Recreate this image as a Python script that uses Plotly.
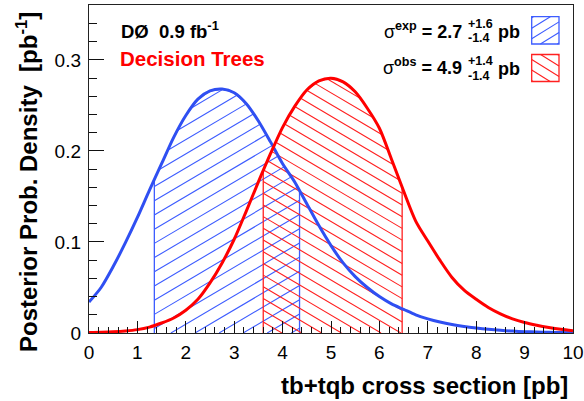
import numpy as np
import plotly.graph_objects as go

W, H = 584, 401

# ---------------- data ----------------
x_grid = [0.0, 0.25, 0.5, 0.75, 1.0, 1.25, 1.5, 1.75, 2.0, 2.25, 2.5, 2.75,
          3.0, 3.25, 3.5, 3.75, 4.0, 4.25, 4.5, 4.75, 5.0, 5.25, 5.5, 5.75,
          6.0, 6.25, 6.5, 6.75, 7.0, 7.25, 7.5, 7.75, 8.0, 8.25, 8.5, 8.75,
          9.0, 9.25, 9.5, 9.75, 10.0]
exp_density = [0.034, 0.050, 0.073, 0.099, 0.127, 0.157, 0.186, 0.215, 0.239,
               0.257, 0.266, 0.268, 0.264, 0.252, 0.233, 0.210, 0.186, 0.166,
               0.142, 0.118, 0.096, 0.077, 0.062, 0.050, 0.040, 0.032, 0.026,
               0.020, 0.0155, 0.012, 0.0093, 0.0072, 0.0055, 0.0041, 0.0030,
               0.0021, 0.0015, 0.0010, 0.0007, 0.0005, 0.0004]
obs_density = [0.0005, 0.0008, 0.0013, 0.0022, 0.0037, 0.0065, 0.011, 0.0165,
               0.025, 0.037, 0.055, 0.077, 0.103, 0.134, 0.166, 0.197, 0.226,
               0.249, 0.267, 0.277, 0.280, 0.276, 0.265, 0.247, 0.225, 0.191,
               0.156, 0.123, 0.101, 0.080, 0.061, 0.047, 0.037, 0.028, 0.021,
               0.0155, 0.0115, 0.0085, 0.0060, 0.0040, 0.0025]
exp_band = [1.35, 4.35]
obs_band = [3.6, 6.47]
x_tick_vals = list(range(0, 11))
x_tick_labels = [str(v) for v in x_tick_vals]
y_tick_vals = [0, 0.1, 0.2, 0.3]
y_tick_labels = ["0", "0.1", "0.2", "0.3"]

# ---------------- styling / geometry ----------------
FONT = "Liberation Sans, Arial, Helvetica, sans-serif"
BLUE = "#2f4ff2"
BLUE_H = "#3d5cff"
RED = "#ff0000"
RED_H = "#ff2020"
X0, X1 = 89.0, 573.0      # plot area in pixels (left, right)
YB, YT = 333.0, 5.0       # plot area in pixels (bottom, top)
XR = [0, 10]
YR = [0, 0.3604]
SX = (X1 - X0) / (XR[1] - XR[0])
SY = (YB - YT) / (YR[1] - YR[0])


def pp(px, py):
    return px / W, 1 - py / H


def hatch(xs, ys, lo, hi, slope_px, spacing_px, anchor_x, anchor_h):
    m = slope_px * SX / SY
    xx = np.linspace(lo, hi, 1200)
    f = np.interp(xx, xs, ys)
    d = spacing_px / SY
    b0 = anchor_h / SY - m * anchor_x
    cands = [0 - m * lo, 0 - m * hi, f.max() - m * lo, f.max() - m * hi]
    kmin = int(np.floor((min(cands) - b0) / d)) - 1
    kmax = int(np.ceil((max(cands) - b0) / d)) + 1
    X, Y = [], []
    for k in range(kmin, kmax + 1):
        b = b0 + k * d
        yl = m * xx + b
        inside = (yl >= 0) & (yl <= f)
        idx = np.flatnonzero(inside)
        if len(idx) < 2:
            continue
        sp = np.flatnonzero(np.diff(idx) > 1)
        starts = np.r_[idx[0], idx[sp + 1]]
        ends = np.r_[idx[sp], idx[-1]]
        for s, e in zip(starts, ends):
            if e > s:
                X += [xx[s], xx[e], None]
                Y += [yl[s], yl[e], None]
    return X, Y


def band_outline(xs, ys, lo, hi):
    xs = np.asarray(xs); ys = np.asarray(ys)
    sel = (xs > lo) & (xs < hi)
    bx = [lo, lo] + list(xs[sel]) + [hi, hi]
    by = [0, float(np.interp(lo, xs, ys))] + list(ys[sel]) + [float(np.interp(hi, xs, ys)), 0]
    return bx, by


fig = go.Figure()

# hatched +-1 sigma regions
for xs, ys, band, col, slope, spacing, ax, ah in [
        (x_grid, exp_density, exp_band, BLUE_H, 0.59, 14.2, 1.346, 103.7),
        (x_grid, obs_density, obs_band, RED_H, -0.59, 11.7, 6.47, 128.0)]:
    hx, hy = hatch(xs, ys, band[0], band[1], slope, spacing, ax, ah)
    fig.add_trace(go.Scatter(x=hx, y=hy, mode="lines", line=dict(color=col, width=1.1),
                             hoverinfo="skip", showlegend=False))
    ox, oy = band_outline(xs, ys, band[0], band[1])
    fig.add_trace(go.Scatter(x=ox, y=oy, mode="lines", line=dict(color=col, width=1.3),
                             hoverinfo="skip", showlegend=False))

# posterior curves
fig.add_trace(go.Scatter(x=x_grid, y=exp_density, mode="lines",
                         line=dict(color=BLUE, width=3, shape="spline", smoothing=0.8),
                         showlegend=False))
fig.add_trace(go.Scatter(x=x_grid, y=obs_density, mode="lines",
                         line=dict(color=RED, width=3, shape="spline", smoothing=0.8),
                         showlegend=False))

shapes = []
# legend boxes with hatching (pixel geometry)
def box_hatch(x0, y0, x1, y1, slope, spacing_h, col):
    out = [dict(type="rect", xref="paper", yref="paper",
                x0=pp(x0, y0)[0], y0=pp(x0, y1)[1], x1=pp(x1, y0)[0], y1=pp(x0, y0)[1],
                line=dict(color=col, width=1.3), fillcolor="rgba(0,0,0,0)")]
    xx = np.linspace(x0, x1, 400)
    for k in range(-6, 7):
        c = (y0 + y1) / 2 + k * spacing_h * abs(slope)
        yy = c - slope * (xx - (x0 + x1) / 2)
        ok = np.flatnonzero((yy >= y0) & (yy <= y1))
        if len(ok) < 2:
            continue
        a, b = ok[0], ok[-1]
        p0 = pp(xx[a], yy[a]); p1 = pp(xx[b], yy[b])
        out.append(dict(type="line", xref="paper", yref="paper",
                        x0=p0[0], y0=p0[1], x1=p1[0], y1=p1[1],
                        line=dict(color=col, width=1.1)))
    return out

shapes += box_hatch(531.7, 16.7, 559.0, 44.0, 0.62, 17.0, BLUE_H)
shapes += box_hatch(531.7, 54.5, 559.0, 81.5, -0.62, 17.0, RED_H)

ann = []
def A(text, px, py, size, color="black", xanchor="left", yanchor="middle", angle=0):
    x, y = pp(px, py)
    ann.append(dict(text=text, x=x, y=y, xref="paper", yref="paper", showarrow=False,
                    xanchor=xanchor, yanchor=yanchor, textangle=angle,
                    font=dict(family=FONT, size=size, color=color)))

A("<b>D\u00d8\u00a0 0.9 fb<sup>-1</sup></b>", 119, 29.5, 18.5)
A("<b>Decision Trees</b>", 118, 58.5, 20.5, color=RED)
A("\u03c3<b><sup>exp</sup> = 2.7</b>", 464, 30, 18, xanchor="right")
A("<b>+1.6</b>", 466, 24, 12.5)
A("<b>-1.4</b>", 466, 38.5, 12.5)
A("<b>pb</b>", 496, 32, 18)
A("\u03c3<b><sup>obs</sup> = 4.9</b>", 464, 66.5, 18, xanchor="right")
A("<b>+1.4</b>", 466, 61, 12.5)
A("<b>-1.4</b>", 466, 75.5, 12.5)
A("<b>pb</b>", 496, 69, 18)
A("<b>tb+tqb cross section [pb]</b>", 570, 385, 24, xanchor="right")
A("<b>Posterior Prob. Density\u00a0 [pb<sup>-1</sup>]</b>", 27, 182, 24,
  xanchor="center", angle=-90)

axis_common = dict(showgrid=False, zeroline=False, showline=True, mirror=True,
                   linecolor="#222222", linewidth=1.4, ticks="inside",
                   tickcolor="#111111", tickwidth=1.2, automargin=False,
                   tickfont=dict(family=FONT, size=19, color="black"))

fig.update_layout(
    width=W, height=H,
    margin=dict(l=0, r=0, t=0, b=0, pad=0, autoexpand=False),
    paper_bgcolor="white", plot_bgcolor="white",
    showlegend=False,
    xaxis=dict(domain=[X0 / W, X1 / W], range=XR, tickvals=x_tick_vals,
               ticktext=x_tick_labels, ticklen=12,
               minor=dict(ticks="inside", dtick=0.2, ticklen=6, tickcolor="#111111", tickwidth=1.2),
               ticklabelstandoff=2, **axis_common),
    yaxis=dict(domain=[1 - YB / H, 1 - YT / H], range=YR, tickvals=y_tick_vals,
               ticktext=y_tick_labels, ticklen=15,
               minor=dict(ticks="inside", dtick=0.02, ticklen=8, tickcolor="#111111", tickwidth=1.2),
               ticklabelstandoff=3, **axis_common),
    shapes=shapes,
    annotations=ann,
)

fig.write_html("out.html")
